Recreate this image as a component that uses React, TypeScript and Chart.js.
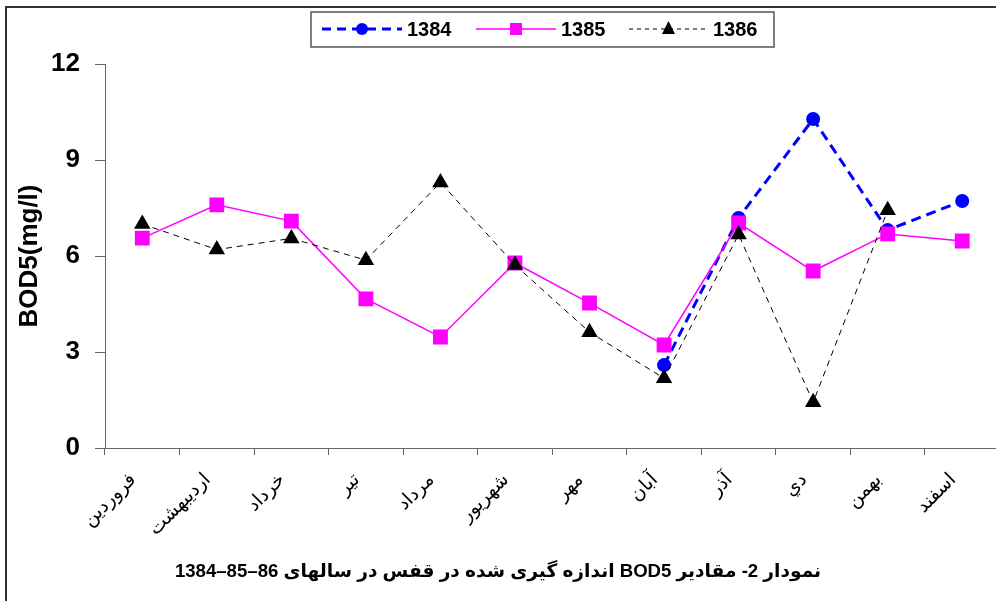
import React, { useEffect, useRef } from "react";
import { Chart, registerables } from "chart.js";

Chart.register(...registerables);

const months = ["فروردين", "ارديبهشت", "خرداد", "تير", "مرداد", "شهريور", "مهر", "آبان", "آذر", "دي", "بهمن", "اسفند"];
const seriesNames = ["1384", "1385", "1386"];
const values1384 = [null, null, null, null, null, null, null, 2.59, 7.19, 10.28, 6.81, 7.72];
const values1385 = [6.56, 7.6, 7.09, 4.66, 3.47, 5.78, 4.53, 3.22, 7.03, 5.53, 6.69, 6.47];
const values1386 = [7.0, 6.2, 6.55, 5.87, 8.3, 5.72, 3.62, 2.18, 6.67, 1.43, 7.43, null];
const yTickValues = [0, 3, 6, 9, 12];
const yAxisTitle = "BOD5(mg/l)";
const chartTitleText = "نمودار 2- مقادير BOD5 اندازه گيری شده در قفس در سالهای ";
const chartTitleYears = "1384–85–86";

const LATIN = '"Liberation Sans", Arial, sans-serif';
const ARABIC = '"DejaVu Sans", sans-serif';

const framePlugin = {
  id: "frame",
  beforeDraw(chart: any) {
    const ctx = chart.ctx;
    ctx.save();
    ctx.fillStyle = "#ffffff";
    ctx.fillRect(0, 0, chart.width, chart.height);
    ctx.strokeStyle = "#333333";
    ctx.lineWidth = 2;
    ctx.strokeRect(6, 7, chart.width + 20, chart.height + 20);
    ctx.restore();
  },
};

const legendPlugin = {
  id: "customLegend",
  afterDraw(chart: any) {
    const ctx = chart.ctx;
    const ds = chart.data.datasets;
    ctx.save();
    ctx.strokeStyle = "#555555";
    ctx.lineWidth = 1.5;
    ctx.strokeRect(311, 12, 463, 35);
    const cy = 29;
    const items = [
      { x0: 322, x1: 402, label: seriesNames[0], d: ds[0], dash: [9, 6], style: "circle" },
      { x0: 476, x1: 556, label: seriesNames[1], d: ds[1], dash: [], style: "rect" },
      { x0: 629, x1: 708, label: seriesNames[2], d: ds[2], dash: [4, 4], style: "triangle" },
    ];
    for (const it of items) {
      ctx.save();
      ctx.strokeStyle = it.d.borderColor;
      ctx.lineWidth = it.d.borderWidth;
      ctx.setLineDash(it.dash);
      ctx.beginPath();
      ctx.moveTo(it.x0, cy);
      ctx.lineTo(it.x1, cy);
      ctx.stroke();
      ctx.restore();
      const mx = (it.x0 + it.x1) / 2;
      ctx.fillStyle = it.d.backgroundColor;
      ctx.beginPath();
      if (it.style === "circle") {
        ctx.arc(mx, cy, 6, 0, Math.PI * 2);
      } else if (it.style === "rect") {
        ctx.rect(mx - 6, cy - 6, 12, 12);
      } else {
        ctx.moveTo(mx, cy - 8);
        ctx.lineTo(mx + 6.5, cy + 5);
        ctx.lineTo(mx - 6.5, cy + 5);
        ctx.closePath();
      }
      ctx.fill();
      ctx.fillStyle = "#000";
      ctx.font = `bold 20px ${LATIN}`;
      ctx.textAlign = "left";
      ctx.textBaseline = "middle";
      ctx.fillText(it.label, it.x1 + 5, cy + 1);
    }
    ctx.restore();
  },
};

const titlePlugin = {
  id: "bottomTitle",
  afterDraw(chart: any) {
    const ctx = chart.ctx;
    ctx.save();
    ctx.font = `bold 18.6px ${LATIN}, ${ARABIC}`;
    ctx.textBaseline = "middle";
    ctx.fillStyle = "#000";
    const cx = 498;
    const cy = 572;
    (ctx as any).direction = "ltr";
    const wYears = ctx.measureText(chartTitleYears).width;
    (ctx as any).direction = "rtl";
    const wText = ctx.measureText(chartTitleText).width;
    const total = wYears + wText;
    const left = cx - total / 2;
    (ctx as any).direction = "ltr";
    ctx.textAlign = "left";
    ctx.fillText(chartTitleYears, left, cy);
    (ctx as any).direction = "rtl";
    ctx.textAlign = "right";
    ctx.fillText(chartTitleText, left + total, cy);
    ctx.restore();
  },
};

export default function App() {
  const canvasRef = useRef<HTMLCanvasElement | null>(null);

  useEffect(() => {
    document.body.style.overflow = "hidden";
    const canvas = canvasRef.current;
    if (!canvas) return;
    const chart = new Chart(canvas, {
      type: "line",
      data: {
        labels: months,
        datasets: [
          {
            label: seriesNames[0],
            data: values1384,
            borderColor: "#0000FF",
            backgroundColor: "#0000FF",
            borderWidth: 3,
            borderDash: [10, 6],
            pointStyle: "circle",
            pointRadius: 7,
            pointBorderWidth: 0,
            tension: 0,
            fill: false,
            order: 3,
          },
          {
            label: seriesNames[1],
            data: values1385,
            borderColor: "#FF00FF",
            backgroundColor: "#FF00FF",
            borderWidth: 1.5,
            pointStyle: "rect",
            pointRadius: 10.5,
            pointBorderWidth: 0,
            tension: 0,
            fill: false,
            order: 2,
          },
          {
            label: seriesNames[2],
            data: values1386,
            borderColor: "#000000",
            backgroundColor: "#000000",
            borderWidth: 1,
            borderDash: [6, 5],
            pointStyle: "triangle",
            pointRadius: 9.5,
            pointBorderWidth: 0,
            tension: 0,
            fill: false,
            order: 1,
          },
        ],
      },
      options: {
        responsive: false,
        animation: false,
        devicePixelRatio: 1,
        layout: { padding: { left: 0, right: 6, top: 64, bottom: 0 } },
        plugins: {
          legend: { display: false },
          tooltip: { enabled: false },
          title: { display: false },
        },
        scales: {
          x: {
            type: "category",
            offset: true,
            grid: {
              display: true,
              drawOnChartArea: false,
              drawTicks: true,
              tickLength: 7,
              color: "#666666",
              offset: true,
            },
            border: { display: true, color: "#666666", width: 1 },
            ticks: {
              autoSkip: false,
              minRotation: 45,
              maxRotation: 45,
              padding: 14,
              labelOffset: -9,
              color: "#000",
              font: { family: ARABIC, size: 19 },
            },
            afterFit: (scale: any) => {
              scale.height = 153;
            },
          },
          y: {
            type: "linear",
            min: 0,
            max: 12,
            grid: {
              display: true,
              drawOnChartArea: false,
              drawTicks: true,
              tickLength: 10,
              color: "#666666",
            },
            border: { display: true, color: "#666666", width: 1 },
            ticks: {
              padding: 15,
              color: "#000",
              font: { family: LATIN, size: 26, weight: "bold" },
            },
            afterBuildTicks: (scale: any) => {
              scale.ticks = yTickValues.map((v) => ({ value: v }));
            },
            title: {
              display: true,
              text: yAxisTitle,
              color: "#000",
              font: { family: LATIN, size: 26, weight: "bold" },
              padding: { top: 14, bottom: 0 },
            },
            afterFit: (scale: any) => {
              scale.width = 105;
            },
          },
        },
      },
      plugins: [framePlugin, legendPlugin, titlePlugin],
    } as any);
    return () => {
      chart.destroy();
    };
  }, []);

  return (
    <div style={{ position: "fixed", left: 0, top: 0, width: 1010, height: 601, background: "#fff" }}>
      <canvas ref={canvasRef} width={1010} height={601} style={{ display: "block" }} />
    </div>
  );
}
